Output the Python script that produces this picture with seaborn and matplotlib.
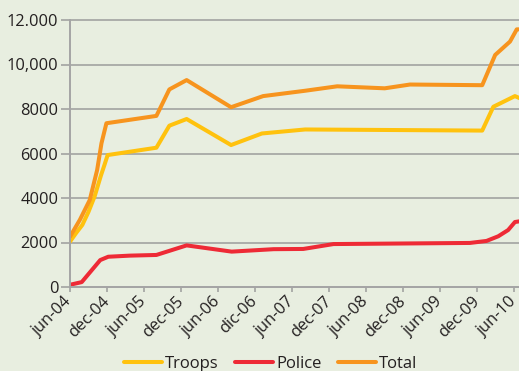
import matplotlib
matplotlib.use("Agg")
import matplotlib.pyplot as plt
import pandas as pd
import seaborn as sns

# Months elapsed since June 2004 and deployed strength for each series
months_troops = [0, 1, 2, 3, 4, 5, 5.6, 6.1, 14, 16.1, 18.9, 26.1, 31.1, 38.1, 66.8, 68.6, 72.1, 73]
troops = [2040, 2430, 2790, 3380, 4080, 5000, 5500, 5930, 6260, 7250, 7550, 6380, 6900, 7080, 7030, 8100, 8580, 8470]

months_police = [0, 1.9, 4.9, 6.2, 9.7, 14, 18.9, 26.2, 33, 37.8, 42.7, 64.8, 67.5, 69.4, 71.0, 72.1, 73]
police = [100, 220, 1210, 1360, 1410, 1440, 1870, 1590, 1700, 1710, 1930, 1980, 2070, 2280, 2560, 2920, 2960]

months_total = [0, 1.6, 3.2, 4.4, 5.1, 5.9, 14, 16.1, 18.9, 26.1, 31.3, 38.1, 43.3, 51, 55.1, 66.8, 68.9, 71.3, 72.4, 73]
total = [2260, 3020, 3910, 5260, 6460, 7360, 7690, 8880, 9300, 8080, 8580, 8820, 9020, 8930, 9100, 9070, 10430, 11030, 11580, 11580]

tick_months = [0, 6, 12, 18, 24, 30, 36, 42, 48, 54, 60, 66, 72]
tick_labels = ["jun-04", "dec-04", "jun-05", "dec-05", "jun-06", "dic-06", "jun-07",
               "dec-07", "jun-08", "dec-08", "jun-09", "dec-09", "jun-10"]
y_ticks = [0, 2000, 4000, 6000, 8000, 10000, 12000]
y_labels = ["0", "2000", "4000", "6000", "8000", "10,000", "12.000"]

series_names = ["Troops", "Police", "Total"]
colors = {"Troops": "#FFC20E", "Police": "#EE2A36", "Total": "#F7941E"}

df = pd.concat([
    pd.DataFrame({"month": months_troops, "value": troops, "series": "Troops"}),
    pd.DataFrame({"month": months_police, "value": police, "series": "Police"}),
    pd.DataFrame({"month": months_total, "value": total, "series": "Total"}),
], ignore_index=True)

bg = "#E8EEE0"
grid_c = "#9C9C9C"
text_c = "#231F20"

sns.set_theme(style="white")
plt.rcParams["font.family"] = ["Open Sans", "DejaVu Sans"]

fig = plt.figure(figsize=(5.19, 3.71), dpi=100, facecolor=bg)
ax = fig.add_axes([70 / 519, 1 - 287 / 371, 1 - 70 / 519, (287 - 20) / 371])
ax.set_facecolor(bg)

sns.lineplot(data=df, x="month", y="value", hue="series", hue_order=series_names,
             palette=colors, linewidth=2.9, ax=ax, sort=True, estimator=None)

ax.set_xlim(0, 72.76)
ax.set_ylim(0, 12000)
ax.set_xlabel("")
ax.set_ylabel("")

ax.set_yticks(y_ticks)
ax.set_yticklabels(y_labels)
ax.set_xticks(tick_months)
ax.set_xticklabels(tick_labels, rotation=45, ha="right", va="center", rotation_mode="anchor")

ax.yaxis.grid(True, color=grid_c, linewidth=1.1)
ax.xaxis.grid(False)
for gl in ax.get_ygridlines():
    gl.set_clip_on(False)
ax.set_axisbelow(True)

ax.tick_params(axis="y", length=6.5, width=1.1, color=grid_c, pad=2, labelsize=11.8, labelcolor=text_c, direction="out", left=True)
ax.tick_params(axis="x", length=3.6, width=1.1, color=grid_c, pad=5, labelsize=11.8, labelcolor=text_c, direction="out", bottom=True)

for side in ["top", "right"]:
    ax.spines[side].set_visible(False)
for side in ["left", "bottom"]:
    ax.spines[side].set_color("#A5A5A5")
    ax.spines[side].set_linewidth(1.4)

sns.move_legend(ax, "center", bbox_to_anchor=(0.522, 0.018), bbox_transform=fig.transFigure,
                ncol=3, frameon=False, title=None, fontsize=12, handlelength=2.25,
                handletextpad=0.2, columnspacing=1.0)
leg = ax.get_legend()
for line in leg.get_lines():
    line.set_linewidth(2.9)
for t in leg.get_texts():
    t.set_color(text_c)

fig.savefig("out.png", dpi=100, facecolor=bg)
